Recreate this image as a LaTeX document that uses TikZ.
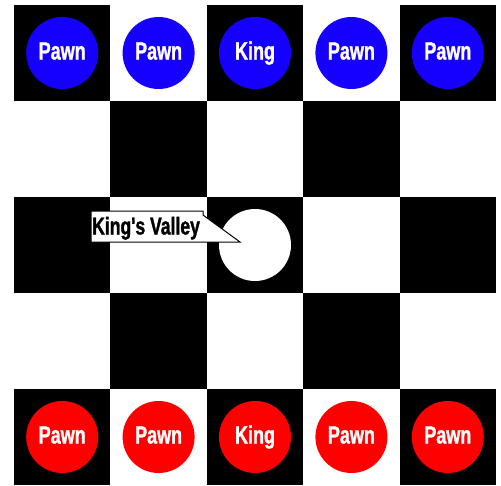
\documentclass[tikz,border=0pt]{standalone}
\usepackage{fontspec}
\newfontfamily\piecefont[FakeStretch=0.72,FakeBold=1.2]{Liberation Sans Bold}
\definecolor{pblue}{RGB}{21,0,255}
\definecolor{pred}{RGB}{255,0,0}
\tikzset{
  darkcell/.style={fill=black},
  piece/.style={circle, minimum size=72pt, inner sep=0pt},
  bluepiece/.style={piece, fill=pblue},
  redpiece/.style={piece, fill=pred},
  emptypiece/.style={piece, fill=white},
  piecelabel/.style={text=white, font=\piecefont\fontsize{25}{25}\selectfont, anchor=base, inner sep=0pt},
  calloutlabel/.style={text=black, font=\piecefont\fontsize{24.4}{24.4}\selectfont, anchor=base west, inner sep=0pt},
}
\begin{document}
\begin{tikzpicture}[x=1pt,y=-1pt]
\useasboundingbox (0,0) rectangle (501,485);
\fill[white] (0,0) rectangle (501,485);
% board
\foreach \c in {0,...,4} {
  \foreach \r in {0,...,4} {
    \pgfmathtruncatemacro{\cellpar}{mod(\c+\r,2)}
    \ifnum\cellpar=0
      \fill[darkcell] ({14+96.4*\c},{5+96*\r}) rectangle ({14+96.4*(\c+1)},{5+96*(\r+1)});
    \fi
  }
}
% blue pieces
\node[bluepiece] (b1) at (62.2,53) {};
\node[bluepiece] (b2) at (158.6,53) {};
\node[bluepiece] (b3) at (255,53) {};
\node[bluepiece] (b4) at (351.4,53) {};
\node[bluepiece] (b5) at (447.8,53) {};
\node[piecelabel] (tb1) at ([yshift=-6.5pt]b1.center) {Pawn};
\node[piecelabel] (tb2) at ([yshift=-6.5pt]b2.center) {Pawn};
\node[piecelabel] (tb3) at ([yshift=-6.5pt]b3.center) {King};
\node[piecelabel] (tb4) at ([yshift=-6.5pt]b4.center) {Pawn};
\node[piecelabel] (tb5) at ([yshift=-6.5pt]b5.center) {Pawn};
% red pieces
\node[redpiece] (r1) at (62.2,437) {};
\node[redpiece] (r2) at (158.6,437) {};
\node[redpiece] (r3) at (255,437) {};
\node[redpiece] (r4) at (351.4,437) {};
\node[redpiece] (r5) at (447.8,437) {};
\node[piecelabel] (tr1) at ([yshift=-6.5pt]r1.center) {Pawn};
\node[piecelabel] (tr2) at ([yshift=-6.5pt]r2.center) {Pawn};
\node[piecelabel] (tr3) at ([yshift=-6.5pt]r3.center) {King};
\node[piecelabel] (tr4) at ([yshift=-6.5pt]r4.center) {Pawn};
\node[piecelabel] (tr5) at ([yshift=-6.5pt]r5.center) {Pawn};
% king's valley
\node[emptypiece] (valley) at (255,245) {};
\coordinate (tip) at (240,242);
\draw[fill=white, line width=1pt] (91,211) -- (203,211) -- (203,215) -- (tip) -- (91,242) -- cycle;
\node[calloutlabel] (vlabel) at (92,234.5) {King's Valley};
\end{tikzpicture}
\end{document}
